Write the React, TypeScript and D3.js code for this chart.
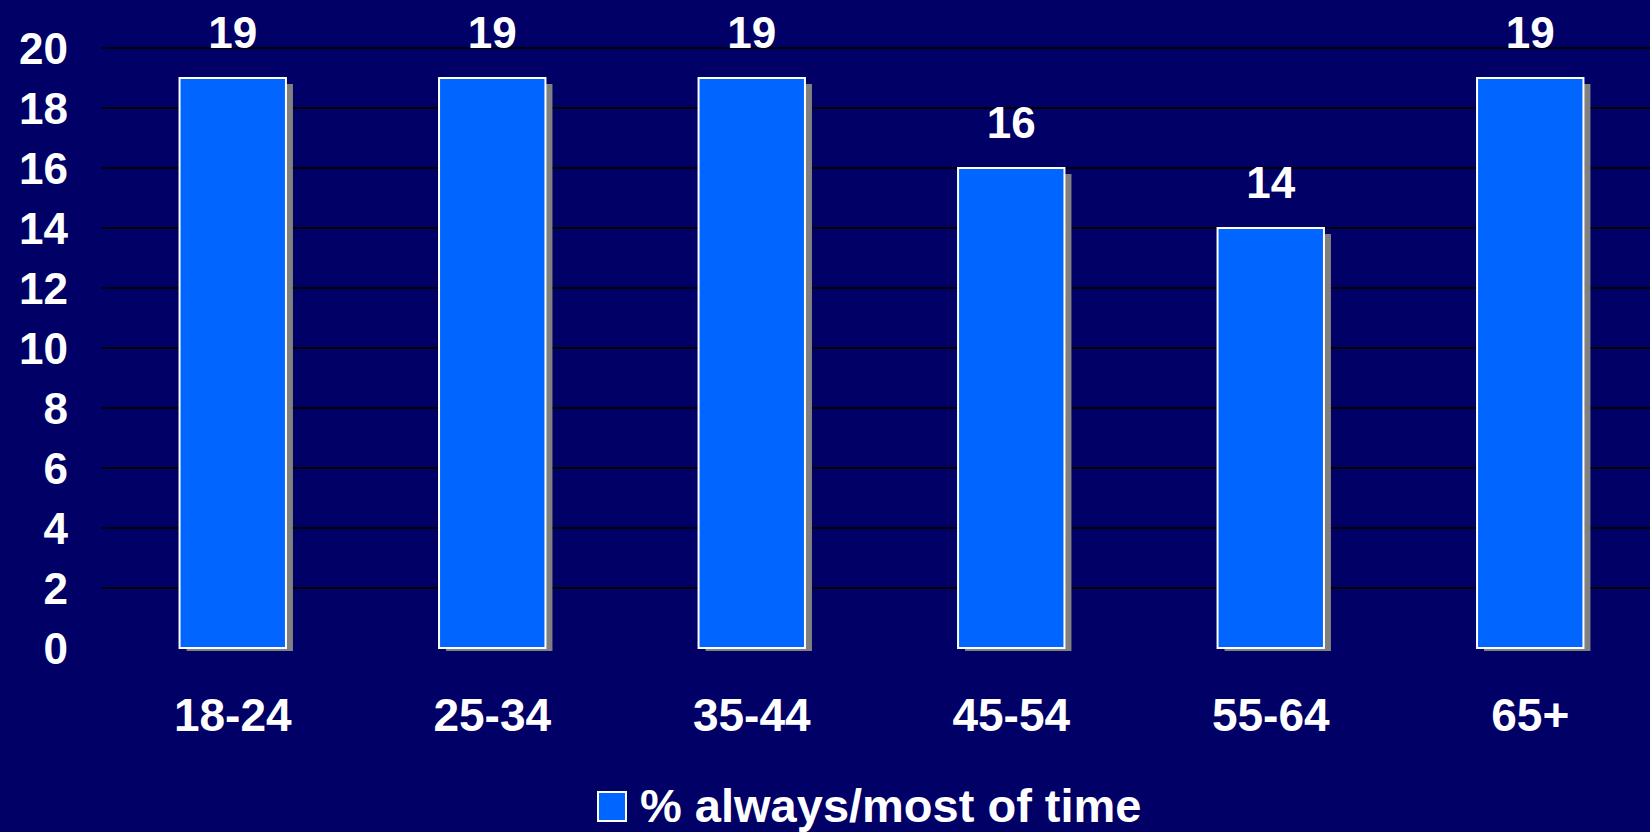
import React from "react";
import * as d3 from "d3";

const categories = ["18-24", "25-34", "35-44", "45-54", "55-64", "65+"];
const values = [19, 19, 19, 16, 14, 19];
const yTicks = [0, 2, 4, 6, 8, 10, 12, 14, 16, 18, 20];
const seriesName = "% always/most of time";

const W = 1650;
const H = 832;
const BG = "#000066";
const BAR = "#0066FF";
const FONT = "'Liberation Sans', Arial, Helvetica, sans-serif";

export default function App() {
  const x = d3
    .scaleBand<string>()
    .domain(categories)
    .range([103, 1660])
    .paddingInner(0.59)
    .paddingOuter(0.295);
  const y = d3.scaleLinear().domain([0, 20]).range([648, 48]);
  const bw = x.bandwidth();

  return (
    <svg
      width={W}
      height={H}
      style={{ position: "absolute", left: 0, top: 0, display: "block" }}
      fontFamily={FONT}
    >
      <rect x={0} y={0} width={W} height={H} fill={BG} />
      {yTicks
        .filter((t) => t > 0)
        .map((t) => (
          <line
            key={"g" + t}
            x1={102}
            x2={W}
            y1={y(t)}
            y2={y(t)}
            stroke="#000000"
            strokeWidth={2}
          />
        ))}
      {yTicks.map((t) => (
        <text
          key={"t" + t}
          x={68}
          y={y(t) + 16}
          textAnchor="end"
          fill="#ffffff"
          fontSize={44}
          fontWeight="bold"
        >
          {t}
        </text>
      ))}
      {categories.map((c, i) => {
        const x0 = x(c) as number;
        const yt = y(values[i]);
        const h = y(0) - yt;
        return (
          <g key={c}>
            <rect x={x0 + 7} y={yt + 6} width={bw} height={h - 3} fill="#808080" />
            <rect
              x={x0}
              y={yt}
              width={bw}
              height={h}
              fill={BAR}
              stroke="#ffffff"
              strokeWidth={2}
            />
            <text
              x={x0 + bw / 2}
              y={yt - 30}
              textAnchor="middle"
              fill="#ffffff"
              fontSize={44}
              fontWeight="bold"
            >
              {values[i]}
            </text>
            <text
              x={x0 + bw / 2}
              y={731}
              textAnchor="middle"
              fill="#ffffff"
              fontSize={46}
              fontWeight="bold"
            >
              {c}
            </text>
          </g>
        );
      })}
      <rect x={598} y={792} width={28} height={29} fill={BAR} stroke="#ffffff" strokeWidth={2} />
      <text x={640} y={822} fill="#ffffff" fontSize={47} fontWeight="bold">
        {seriesName}
      </text>
    </svg>
  );
}
